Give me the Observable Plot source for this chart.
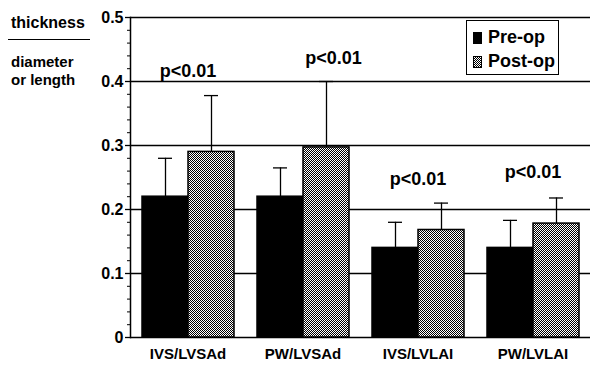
<!DOCTYPE html>
<html><head><meta charset="utf-8">
<script src="https://cdn.jsdelivr.net/npm/d3@7"></script>
<script src="https://cdn.jsdelivr.net/npm/@observablehq/plot@0.6"></script>
<style>
body{margin:0;background:#fff;font-family:"Liberation Sans",Arial,sans-serif;overflow:hidden;}
#wrap{position:relative;width:593px;height:368px;}
.lab{position:absolute;font-weight:bold;color:#000;white-space:nowrap;}
#legend{position:absolute;left:466px;top:20px;width:91px;height:53px;border:1px solid #000;background:#fff;}
.li{position:absolute;left:6px;font-weight:bold;font-size:18px;line-height:18px;}
.sw{display:inline-block;width:9px;height:12px;margin-right:6px;vertical-align:-1px;}
</style></head>
<body><div id="wrap"></div>
<script>
const groups = ["IVS/LVSAd", "PW/LVSAd", "IVS/LVLAI", "PW/LVLAI"];
const series = ["Pre-op", "Post-op"];
const preMean = [0.22, 0.22, 0.14, 0.14];
const preUpper = [0.28, 0.265, 0.18, 0.183];
const postMean = [0.29, 0.297, 0.168, 0.178];
const postUpper = [0.378, 0.40, 0.21, 0.218];
const pText = ["p<0.01", "p<0.01", "p<0.01", "p<0.01"];
const pY = [0.416, 0.437, 0.248, 0.258];
const pOver = ["group", "Post-op", "group", "group"];
const yTicks = [0, 0.1, 0.2, 0.3, 0.4, 0.5];
const gridY = [0.1, 0.2, 0.3, 0.4, 0.5];

const rows = [];
groups.forEach((g, i) => {
  rows.push({group: g, series: "Pre-op", mean: preMean[i], upper: preUpper[i]});
  rows.push({group: g, series: "Post-op", mean: postMean[i], upper: postUpper[i]});
});
const pRows = groups.map((g, i) => ({group: g, label: pText[i], y: pY[i], over: pOver[i]}));
const minor = d3.range(0, 0.5001, 0.02);

const plot = Plot.plot({
  width: 593, height: 368,
  marginLeft: 128, marginRight: 2, marginTop: 17, marginBottom: 31,
  style: {fontFamily: "Liberation Sans, Arial, sans-serif", color: "#000", background: "#fff"},
  fx: {domain: groups, padding: 0, label: null, axis: null},
  x: {domain: series, paddingInner: 0, paddingOuter: 0.234, axis: null},
  y: {domain: [0, 0.5], axis: null, label: null},
  marks: [
    Plot.ruleY(gridY, {stroke: "#000", strokeWidth: 1.4}),
    Plot.ruleY([0], {stroke: "#000", strokeWidth: 1.5}),
    Plot.barY(rows, {fx: "group", x: "series", y: "mean",
      fill: d => d.series === "Pre-op" ? "#000" : "url(#stipple)", stroke: "#000", strokeWidth: 1.5}),
    Plot.ruleX(rows, {fx: "group", x: "series", y1: "mean", y2: "upper", stroke: "#000", strokeWidth: 1.3}),
    Plot.tickY(rows, {fx: "group", x: "series", y: "upper", insetLeft: 16, insetRight: 16, stroke: "#000", strokeWidth: 1.3}),
    Plot.text(pRows.filter(d => d.over === "group"), {fx: "group", y: "y", text: "label", fontWeight: "bold", fontSize: 18, fill: "#000"}),
    Plot.text(pRows.filter(d => d.over !== "group"), {fx: "group", x: "over", y: "y", dx: 7, text: "label", fontWeight: "bold", fontSize: 18, fill: "#000"}),
    Plot.axisY({ticks: minor, tickSize: 3, tickFormat: null, text: null, label: null, strokeWidth: 1}),
    Plot.axisY({ticks: yTicks, tickSize: 5, tickPadding: 2, label: null, tickFormat: d => d === 0 ? "0" : d.toFixed(1),
      fontSize: 16, fontWeight: "bold", strokeWidth: 1.3}),
    Plot.axisFx({anchor: "bottom", tickSize: 0, tickPadding: 11, label: null, fontSize: 15, fontWeight: "bold"}),
    Plot.frame({anchor: "left", facetAnchor: "left", stroke: "#000", strokeWidth: 1.5})
  ]
});

const defs = d3.select(plot).insert("defs", ":first-child");
const pat = defs.append("pattern").attr("id", "stipple").attr("patternUnits", "userSpaceOnUse")
  .attr("width", 2).attr("height", 2);
pat.append("rect").attr("width", 2).attr("height", 2).attr("fill", "#fff");
pat.append("rect").attr("x", 0).attr("y", 0).attr("width", 1).attr("height", 1).attr("fill", "#000");
pat.append("rect").attr("x", 1).attr("y", 1).attr("width", 1).attr("height", 1).attr("fill", "#000");

d3.select(plot).selectAll('g[aria-label="y-axis tick label"] text')
  .style("font-size", "16px").style("font-weight", "bold");
d3.select(plot).selectAll('g[aria-label="fx-axis tick label"] text')
  .style("font-size", "15px").style("font-weight", "bold");

const wrap = document.getElementById("wrap");
wrap.appendChild(plot);
wrap.insertAdjacentHTML("beforeend", `
<div class="lab" style="left:11px;top:14px;font-size:16px;">thickness</div>
<div style="position:absolute;left:8px;top:39px;width:82px;height:0;border-top:1.5px solid #000;"></div>
<div class="lab" style="left:11px;top:53px;font-size:15px;">diameter</div>
<div class="lab" style="left:11px;top:71px;font-size:15px;">or length</div>
<div id="legend">
  <div class="li" style="top:7px;"><span class="sw" style="background:#000"></span>Pre-op</div>
  <div class="li" style="top:31px;"><span class="sw" style="border:1px solid #000;width:7px;height:10px;background:repeating-conic-gradient(#000 0 25%, #fff 0 50%) 0 0/2px 2px;"></span>Post-op</div>
</div>`);
</script></body></html>
